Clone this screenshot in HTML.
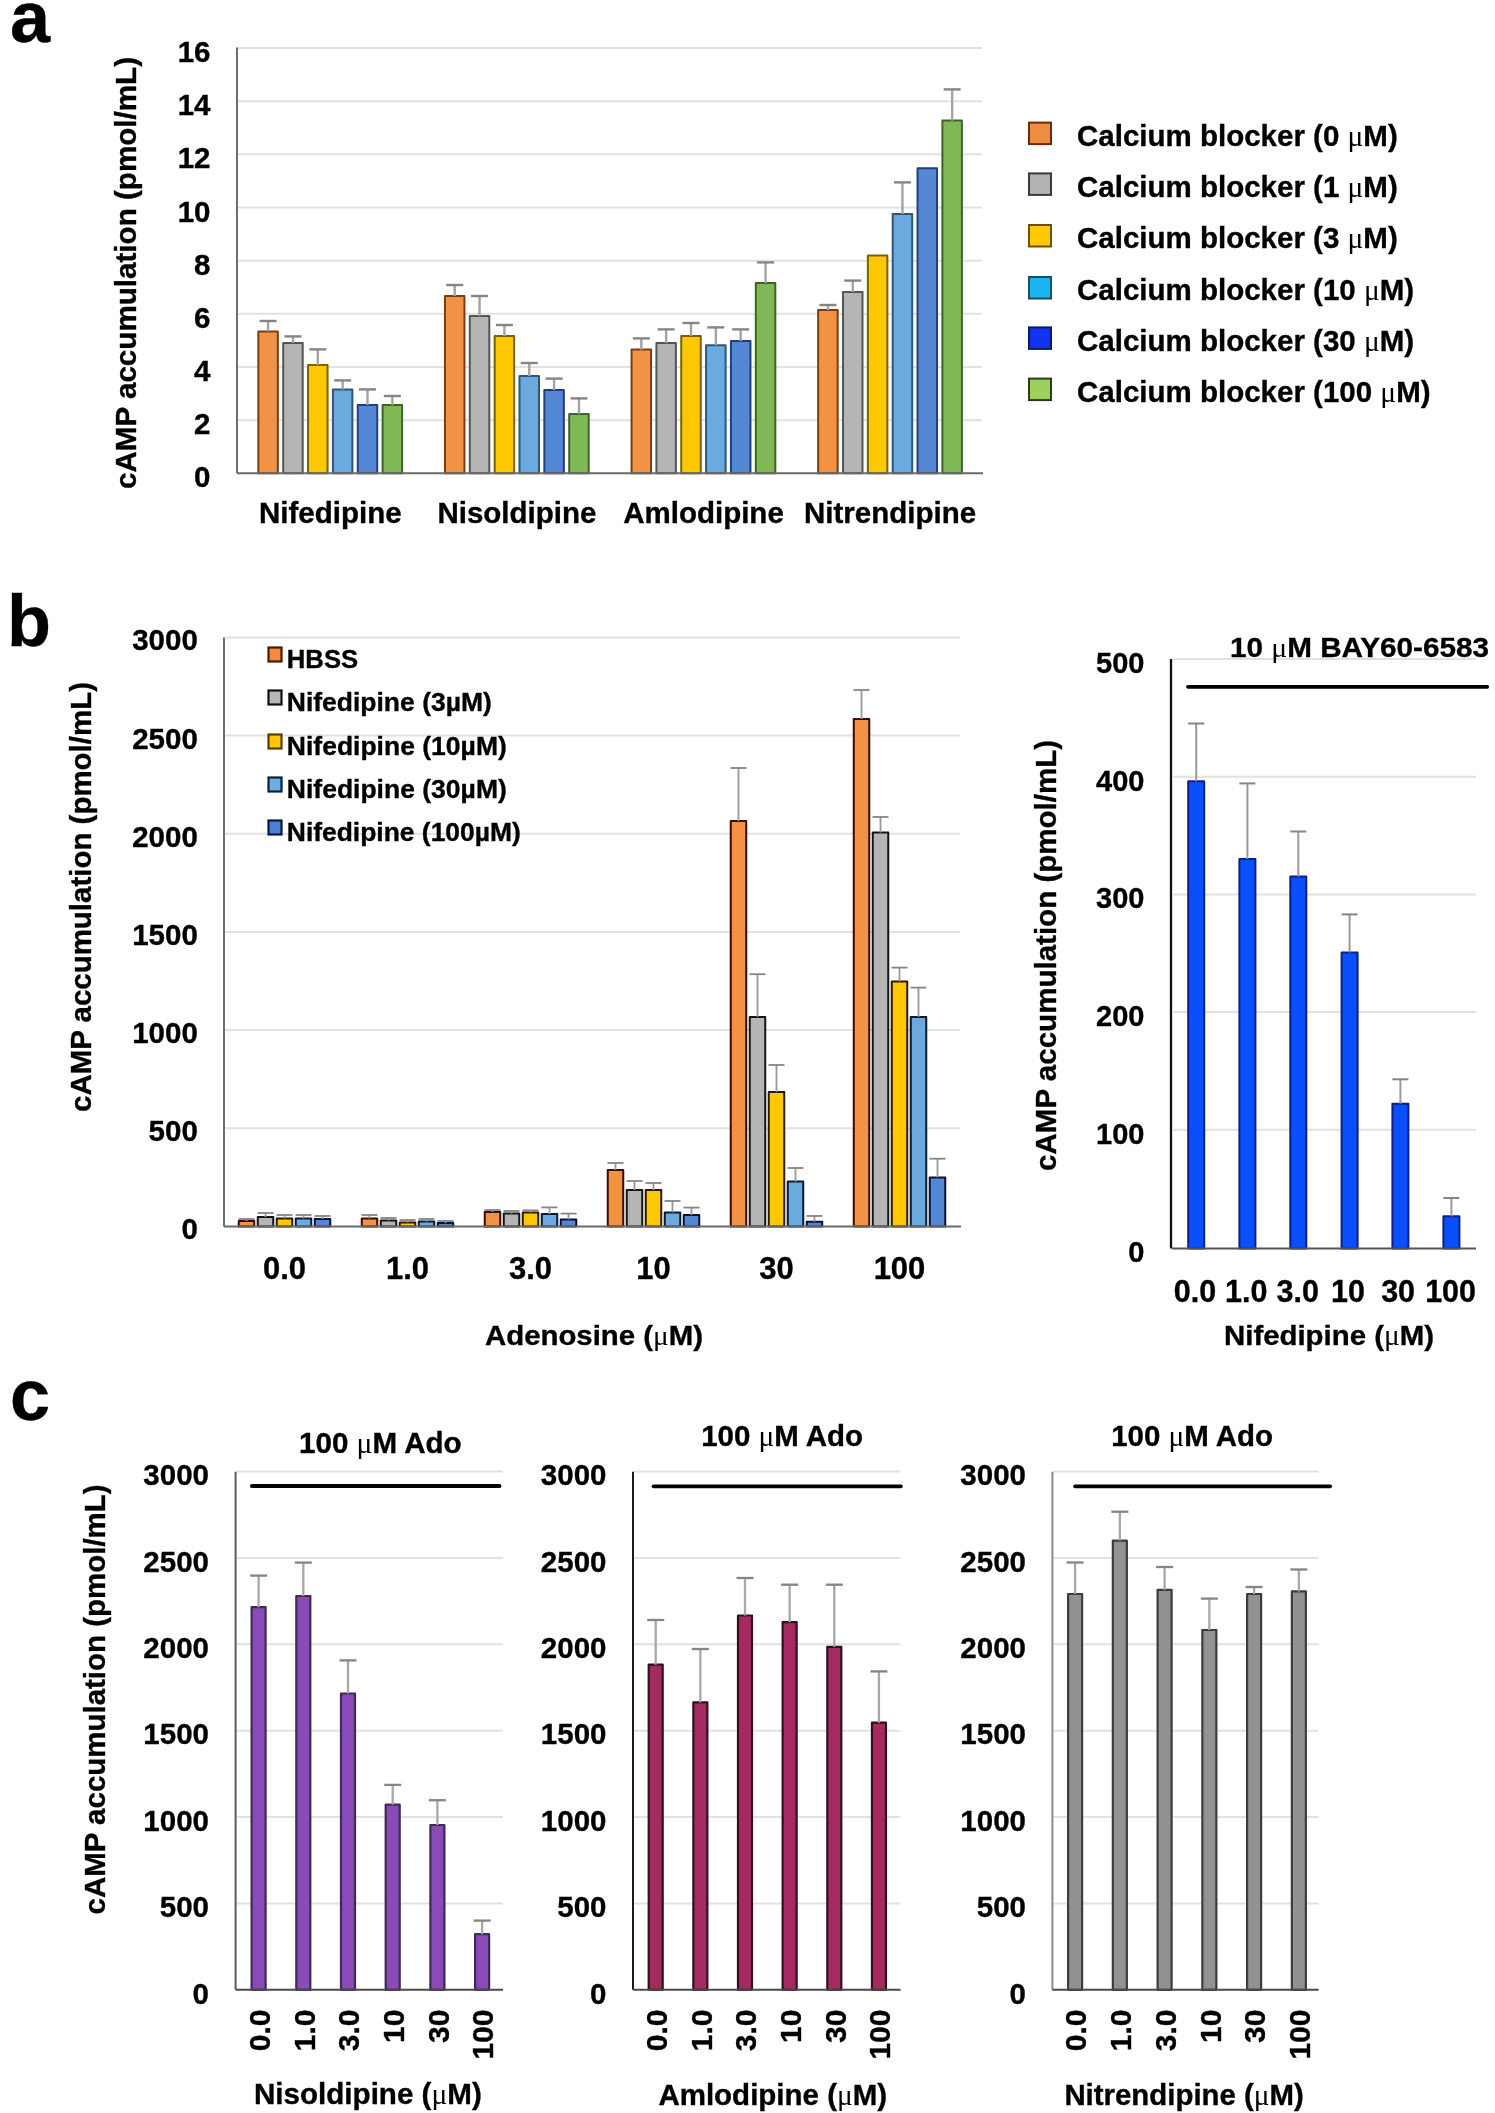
<!DOCTYPE html>
<html><head><meta charset="utf-8"><title>Figure</title>
<style>
html,body{margin:0;padding:0;background:#fff;}
svg{display:block;filter:blur(0.6px);}
text{font-family:"Liberation Sans",sans-serif;font-weight:bold;fill:#000;stroke:#000;stroke-width:0.35px;}
.mu{font-family:"Liberation Serif",serif;font-weight:normal;stroke-width:0;}
</style></head>
<body>
<svg width="1495" height="2113" viewBox="0 0 1495 2113">
<rect width="1495" height="2113" fill="#fff"/>
<text x="10" y="41.5" font-size="72">a</text>
<line x1="238" y1="420.14" x2="982" y2="420.14" stroke="#e2e2e2" stroke-width="2"/>
<line x1="238" y1="366.98" x2="982" y2="366.98" stroke="#e2e2e2" stroke-width="2"/>
<line x1="238" y1="313.82" x2="982" y2="313.82" stroke="#e2e2e2" stroke-width="2"/>
<line x1="238" y1="260.66" x2="982" y2="260.66" stroke="#e2e2e2" stroke-width="2"/>
<line x1="238" y1="207.50" x2="982" y2="207.50" stroke="#e2e2e2" stroke-width="2"/>
<line x1="238" y1="154.34" x2="982" y2="154.34" stroke="#e2e2e2" stroke-width="2"/>
<line x1="238" y1="101.18" x2="982" y2="101.18" stroke="#e2e2e2" stroke-width="2"/>
<line x1="238" y1="48.02" x2="982" y2="48.02" stroke="#e2e2e2" stroke-width="2"/>
<text x="210.5" y="487.30" font-size="29.5" text-anchor="end">0</text>
<text x="210.5" y="434.14" font-size="29.5" text-anchor="end">2</text>
<text x="210.5" y="380.98" font-size="29.5" text-anchor="end">4</text>
<text x="210.5" y="327.82" font-size="29.5" text-anchor="end">6</text>
<text x="210.5" y="274.66" font-size="29.5" text-anchor="end">8</text>
<text x="210.5" y="221.50" font-size="29.5" text-anchor="end">10</text>
<text x="210.5" y="168.34" font-size="29.5" text-anchor="end">12</text>
<text x="210.5" y="115.18" font-size="29.5" text-anchor="end">14</text>
<text x="210.5" y="62.02" font-size="29.5" text-anchor="end">16</text>
<text transform="translate(136,273) rotate(-90)" font-size="29.5" text-anchor="middle" textLength="432" lengthAdjust="spacingAndGlyphs">cAMP accumulation (pmol/mL)</text>
<rect x="258.35" y="331.40" width="19.5" height="141.90" fill="#f29244" stroke="#7a3c10" stroke-width="2" stroke-linejoin="round"/>
<rect x="283.20" y="343.00" width="19.5" height="130.30" fill="#b5b5b5" stroke="#555555" stroke-width="2" stroke-linejoin="round"/>
<rect x="308.05" y="365.00" width="19.5" height="108.30" fill="#fdc800" stroke="#7a6000" stroke-width="2" stroke-linejoin="round"/>
<rect x="332.90" y="389.40" width="19.5" height="83.90" fill="#6aaade" stroke="#2c5878" stroke-width="2" stroke-linejoin="round"/>
<rect x="357.75" y="405.00" width="19.5" height="68.30" fill="#5588d4" stroke="#243e78" stroke-width="2" stroke-linejoin="round"/>
<rect x="382.60" y="405.00" width="19.5" height="68.30" fill="#80b855" stroke="#3c6428" stroke-width="2" stroke-linejoin="round"/>
<rect x="444.95" y="296.00" width="19.5" height="177.30" fill="#f29244" stroke="#7a3c10" stroke-width="2" stroke-linejoin="round"/>
<rect x="469.80" y="316.00" width="19.5" height="157.30" fill="#b5b5b5" stroke="#555555" stroke-width="2" stroke-linejoin="round"/>
<rect x="494.65" y="336.00" width="19.5" height="137.30" fill="#fdc800" stroke="#7a6000" stroke-width="2" stroke-linejoin="round"/>
<rect x="519.50" y="376.00" width="19.5" height="97.30" fill="#6aaade" stroke="#2c5878" stroke-width="2" stroke-linejoin="round"/>
<rect x="544.35" y="390.00" width="19.5" height="83.30" fill="#5588d4" stroke="#243e78" stroke-width="2" stroke-linejoin="round"/>
<rect x="569.20" y="414.00" width="19.5" height="59.30" fill="#80b855" stroke="#3c6428" stroke-width="2" stroke-linejoin="round"/>
<rect x="631.55" y="349.60" width="19.5" height="123.70" fill="#f29244" stroke="#7a3c10" stroke-width="2" stroke-linejoin="round"/>
<rect x="656.40" y="343.00" width="19.5" height="130.30" fill="#b5b5b5" stroke="#555555" stroke-width="2" stroke-linejoin="round"/>
<rect x="681.25" y="336.00" width="19.5" height="137.30" fill="#fdc800" stroke="#7a6000" stroke-width="2" stroke-linejoin="round"/>
<rect x="706.10" y="345.20" width="19.5" height="128.10" fill="#6aaade" stroke="#2c5878" stroke-width="2" stroke-linejoin="round"/>
<rect x="730.95" y="341.00" width="19.5" height="132.30" fill="#5588d4" stroke="#243e78" stroke-width="2" stroke-linejoin="round"/>
<rect x="755.80" y="283.00" width="19.5" height="190.30" fill="#80b855" stroke="#3c6428" stroke-width="2" stroke-linejoin="round"/>
<rect x="818.15" y="310.00" width="19.5" height="163.30" fill="#f29244" stroke="#7a3c10" stroke-width="2" stroke-linejoin="round"/>
<rect x="843.00" y="292.00" width="19.5" height="181.30" fill="#b5b5b5" stroke="#555555" stroke-width="2" stroke-linejoin="round"/>
<rect x="867.85" y="255.40" width="19.5" height="217.90" fill="#fdc800" stroke="#7a6000" stroke-width="2" stroke-linejoin="round"/>
<rect x="892.70" y="214.00" width="19.5" height="259.30" fill="#6aaade" stroke="#2c5878" stroke-width="2" stroke-linejoin="round"/>
<rect x="917.55" y="168.30" width="19.5" height="305.00" fill="#5588d4" stroke="#243e78" stroke-width="2" stroke-linejoin="round"/>
<rect x="942.40" y="120.60" width="19.5" height="352.70" fill="#80b855" stroke="#3c6428" stroke-width="2" stroke-linejoin="round"/>
<line x1="268.10" y1="331.40" x2="268.10" y2="321.00" stroke="#a3a3a3" stroke-width="2.4"/>
<line x1="259.60" y1="321.00" x2="276.60" y2="321.00" stroke="#858585" stroke-width="2.4"/>
<line x1="292.95" y1="343.00" x2="292.95" y2="336.40" stroke="#a3a3a3" stroke-width="2.4"/>
<line x1="284.45" y1="336.40" x2="301.45" y2="336.40" stroke="#858585" stroke-width="2.4"/>
<line x1="317.80" y1="365.00" x2="317.80" y2="349.40" stroke="#a3a3a3" stroke-width="2.4"/>
<line x1="309.30" y1="349.40" x2="326.30" y2="349.40" stroke="#858585" stroke-width="2.4"/>
<line x1="342.65" y1="389.40" x2="342.65" y2="380.40" stroke="#a3a3a3" stroke-width="2.4"/>
<line x1="334.15" y1="380.40" x2="351.15" y2="380.40" stroke="#858585" stroke-width="2.4"/>
<line x1="367.50" y1="405.00" x2="367.50" y2="389.40" stroke="#a3a3a3" stroke-width="2.4"/>
<line x1="359.00" y1="389.40" x2="376.00" y2="389.40" stroke="#858585" stroke-width="2.4"/>
<line x1="392.35" y1="405.00" x2="392.35" y2="396.00" stroke="#a3a3a3" stroke-width="2.4"/>
<line x1="383.85" y1="396.00" x2="400.85" y2="396.00" stroke="#858585" stroke-width="2.4"/>
<line x1="454.70" y1="296.00" x2="454.70" y2="285.00" stroke="#a3a3a3" stroke-width="2.4"/>
<line x1="446.20" y1="285.00" x2="463.20" y2="285.00" stroke="#858585" stroke-width="2.4"/>
<line x1="479.55" y1="316.00" x2="479.55" y2="296.00" stroke="#a3a3a3" stroke-width="2.4"/>
<line x1="471.05" y1="296.00" x2="488.05" y2="296.00" stroke="#858585" stroke-width="2.4"/>
<line x1="504.40" y1="336.00" x2="504.40" y2="325.00" stroke="#a3a3a3" stroke-width="2.4"/>
<line x1="495.90" y1="325.00" x2="512.90" y2="325.00" stroke="#858585" stroke-width="2.4"/>
<line x1="529.25" y1="376.00" x2="529.25" y2="363.00" stroke="#a3a3a3" stroke-width="2.4"/>
<line x1="520.75" y1="363.00" x2="537.75" y2="363.00" stroke="#858585" stroke-width="2.4"/>
<line x1="554.10" y1="390.00" x2="554.10" y2="378.60" stroke="#a3a3a3" stroke-width="2.4"/>
<line x1="545.60" y1="378.60" x2="562.60" y2="378.60" stroke="#858585" stroke-width="2.4"/>
<line x1="578.95" y1="414.00" x2="578.95" y2="398.40" stroke="#a3a3a3" stroke-width="2.4"/>
<line x1="570.45" y1="398.40" x2="587.45" y2="398.40" stroke="#858585" stroke-width="2.4"/>
<line x1="641.30" y1="349.60" x2="641.30" y2="338.40" stroke="#a3a3a3" stroke-width="2.4"/>
<line x1="632.80" y1="338.40" x2="649.80" y2="338.40" stroke="#858585" stroke-width="2.4"/>
<line x1="666.15" y1="343.00" x2="666.15" y2="329.40" stroke="#a3a3a3" stroke-width="2.4"/>
<line x1="657.65" y1="329.40" x2="674.65" y2="329.40" stroke="#858585" stroke-width="2.4"/>
<line x1="691.00" y1="336.00" x2="691.00" y2="323.00" stroke="#a3a3a3" stroke-width="2.4"/>
<line x1="682.50" y1="323.00" x2="699.50" y2="323.00" stroke="#858585" stroke-width="2.4"/>
<line x1="715.85" y1="345.20" x2="715.85" y2="327.40" stroke="#a3a3a3" stroke-width="2.4"/>
<line x1="707.35" y1="327.40" x2="724.35" y2="327.40" stroke="#858585" stroke-width="2.4"/>
<line x1="740.70" y1="341.00" x2="740.70" y2="329.40" stroke="#a3a3a3" stroke-width="2.4"/>
<line x1="732.20" y1="329.40" x2="749.20" y2="329.40" stroke="#858585" stroke-width="2.4"/>
<line x1="765.55" y1="283.00" x2="765.55" y2="262.40" stroke="#a3a3a3" stroke-width="2.4"/>
<line x1="757.05" y1="262.40" x2="774.05" y2="262.40" stroke="#858585" stroke-width="2.4"/>
<line x1="827.90" y1="310.00" x2="827.90" y2="305.00" stroke="#a3a3a3" stroke-width="2.4"/>
<line x1="819.40" y1="305.00" x2="836.40" y2="305.00" stroke="#858585" stroke-width="2.4"/>
<line x1="852.75" y1="292.00" x2="852.75" y2="280.60" stroke="#a3a3a3" stroke-width="2.4"/>
<line x1="844.25" y1="280.60" x2="861.25" y2="280.60" stroke="#858585" stroke-width="2.4"/>
<line x1="902.45" y1="214.00" x2="902.45" y2="182.40" stroke="#a3a3a3" stroke-width="2.4"/>
<line x1="893.95" y1="182.40" x2="910.95" y2="182.40" stroke="#858585" stroke-width="2.4"/>
<line x1="952.15" y1="120.60" x2="952.15" y2="89.40" stroke="#a3a3a3" stroke-width="2.4"/>
<line x1="943.65" y1="89.40" x2="960.65" y2="89.40" stroke="#858585" stroke-width="2.4"/>
<line x1="237" y1="47.6" x2="237" y2="473.3" stroke="#6e6e6e" stroke-width="2"/>
<line x1="237" y1="473.3" x2="983" y2="473.3" stroke="#6a6a6a" stroke-width="2"/>
<text x="330.3" y="523" font-size="29.5" text-anchor="middle">Nifedipine</text>
<text x="516.9" y="523" font-size="29.5" text-anchor="middle">Nisoldipine</text>
<text x="703.5" y="523" font-size="29.5" text-anchor="middle">Amlodipine</text>
<text x="890.1" y="523" font-size="29.5" text-anchor="middle">Nitrendipine</text>
<rect x="1029" y="122.6" width="22" height="21.5" fill="#f08c40" stroke="#6a2a10" stroke-width="2"/>
<text x="1077" y="145.9" font-size="29.5" text-anchor="start">Calcium blocker (0 <tspan class="mu">μ</tspan>M)</text>
<rect x="1029" y="173.4" width="22" height="21.5" fill="#b2b2b2" stroke="#3a3a3a" stroke-width="2"/>
<text x="1077" y="196.7" font-size="29.5" text-anchor="start">Calcium blocker (1 <tspan class="mu">μ</tspan>M)</text>
<rect x="1029" y="225.0" width="22" height="21.5" fill="#ffc800" stroke="#6a5000" stroke-width="2"/>
<text x="1077" y="248.3" font-size="29.5" text-anchor="start">Calcium blocker (3 <tspan class="mu">μ</tspan>M)</text>
<rect x="1029" y="277.0" width="22" height="21.5" fill="#1ab4f0" stroke="#1a4a6a" stroke-width="2"/>
<text x="1077" y="300.3" font-size="29.5" text-anchor="start">Calcium blocker (10 <tspan class="mu">μ</tspan>M)</text>
<rect x="1029" y="327.4" width="22" height="21.5" fill="#1432f5" stroke="#101860" stroke-width="2"/>
<text x="1077" y="350.7" font-size="29.5" text-anchor="start">Calcium blocker (30 <tspan class="mu">μ</tspan>M)</text>
<rect x="1029" y="378.6" width="22" height="21.5" fill="#9ed05c" stroke="#2a3a20" stroke-width="2"/>
<text x="1077" y="401.9" font-size="29.5" text-anchor="start">Calcium blocker (100 <tspan class="mu">μ</tspan>M)</text>
<text x="7" y="645.5" font-size="72">b</text>
<line x1="225" y1="1128.24" x2="960" y2="1128.24" stroke="#e2e2e2" stroke-width="2"/>
<line x1="225" y1="1030.07" x2="960" y2="1030.07" stroke="#e2e2e2" stroke-width="2"/>
<line x1="225" y1="931.91" x2="960" y2="931.91" stroke="#e2e2e2" stroke-width="2"/>
<line x1="225" y1="833.74" x2="960" y2="833.74" stroke="#e2e2e2" stroke-width="2"/>
<line x1="225" y1="735.58" x2="960" y2="735.58" stroke="#e2e2e2" stroke-width="2"/>
<line x1="225" y1="637.41" x2="960" y2="637.41" stroke="#e2e2e2" stroke-width="2"/>
<text x="197.8" y="1239.40" font-size="29.5" text-anchor="end">0</text>
<text x="197.8" y="1141.24" font-size="29.5" text-anchor="end">500</text>
<text x="197.8" y="1043.07" font-size="29.5" text-anchor="end">1000</text>
<text x="197.8" y="944.91" font-size="29.5" text-anchor="end">1500</text>
<text x="197.8" y="846.74" font-size="29.5" text-anchor="end">2000</text>
<text x="197.8" y="748.58" font-size="29.5" text-anchor="end">2500</text>
<text x="197.8" y="650.41" font-size="29.5" text-anchor="end">3000</text>
<text transform="translate(91,897) rotate(-90)" font-size="29.5" text-anchor="middle" textLength="430" lengthAdjust="spacingAndGlyphs">cAMP accumulation (pmol/mL)</text>
<rect x="238.75" y="1221.00" width="15.5" height="5.40" fill="#f29244" stroke="#3a0a00" stroke-width="2" stroke-linejoin="round"/>
<rect x="257.75" y="1217.00" width="15.5" height="9.40" fill="#b5b5b5" stroke="#141414" stroke-width="2" stroke-linejoin="round"/>
<rect x="276.75" y="1218.40" width="15.5" height="8.00" fill="#fdc800" stroke="#2a1a00" stroke-width="2" stroke-linejoin="round"/>
<rect x="295.75" y="1218.40" width="15.5" height="8.00" fill="#6aaade" stroke="#0a1a30" stroke-width="2" stroke-linejoin="round"/>
<rect x="314.75" y="1219.00" width="15.5" height="7.40" fill="#5588d4" stroke="#0a1030" stroke-width="2" stroke-linejoin="round"/>
<rect x="361.75" y="1218.40" width="15.5" height="8.00" fill="#f29244" stroke="#3a0a00" stroke-width="2" stroke-linejoin="round"/>
<rect x="380.75" y="1220.50" width="15.5" height="5.90" fill="#b5b5b5" stroke="#141414" stroke-width="2" stroke-linejoin="round"/>
<rect x="399.75" y="1222.50" width="15.5" height="3.90" fill="#fdc800" stroke="#2a1a00" stroke-width="2" stroke-linejoin="round"/>
<rect x="418.75" y="1221.50" width="15.5" height="4.90" fill="#6aaade" stroke="#0a1a30" stroke-width="2" stroke-linejoin="round"/>
<rect x="437.75" y="1223.00" width="15.5" height="3.40" fill="#5588d4" stroke="#0a1030" stroke-width="2" stroke-linejoin="round"/>
<rect x="484.75" y="1212.00" width="15.5" height="14.40" fill="#f29244" stroke="#3a0a00" stroke-width="2" stroke-linejoin="round"/>
<rect x="503.75" y="1213.60" width="15.5" height="12.80" fill="#b5b5b5" stroke="#141414" stroke-width="2" stroke-linejoin="round"/>
<rect x="522.75" y="1212.40" width="15.5" height="14.00" fill="#fdc800" stroke="#2a1a00" stroke-width="2" stroke-linejoin="round"/>
<rect x="541.75" y="1214.00" width="15.5" height="12.40" fill="#6aaade" stroke="#0a1a30" stroke-width="2" stroke-linejoin="round"/>
<rect x="560.75" y="1219.40" width="15.5" height="7.00" fill="#5588d4" stroke="#0a1030" stroke-width="2" stroke-linejoin="round"/>
<rect x="607.75" y="1170.00" width="15.5" height="56.40" fill="#f29244" stroke="#3a0a00" stroke-width="2" stroke-linejoin="round"/>
<rect x="626.75" y="1190.00" width="15.5" height="36.40" fill="#b5b5b5" stroke="#141414" stroke-width="2" stroke-linejoin="round"/>
<rect x="645.75" y="1190.00" width="15.5" height="36.40" fill="#fdc800" stroke="#2a1a00" stroke-width="2" stroke-linejoin="round"/>
<rect x="664.75" y="1212.40" width="15.5" height="14.00" fill="#6aaade" stroke="#0a1a30" stroke-width="2" stroke-linejoin="round"/>
<rect x="683.75" y="1215.00" width="15.5" height="11.40" fill="#5588d4" stroke="#0a1030" stroke-width="2" stroke-linejoin="round"/>
<rect x="730.75" y="821.00" width="15.5" height="405.40" fill="#f29244" stroke="#3a0a00" stroke-width="2" stroke-linejoin="round"/>
<rect x="749.75" y="1016.90" width="15.5" height="209.50" fill="#b5b5b5" stroke="#141414" stroke-width="2" stroke-linejoin="round"/>
<rect x="768.75" y="1092.00" width="15.5" height="134.40" fill="#fdc800" stroke="#2a1a00" stroke-width="2" stroke-linejoin="round"/>
<rect x="787.75" y="1181.60" width="15.5" height="44.80" fill="#6aaade" stroke="#0a1a30" stroke-width="2" stroke-linejoin="round"/>
<rect x="806.75" y="1221.70" width="15.5" height="4.70" fill="#5588d4" stroke="#0a1030" stroke-width="2" stroke-linejoin="round"/>
<rect x="853.75" y="719.00" width="15.5" height="507.40" fill="#f29244" stroke="#3a0a00" stroke-width="2" stroke-linejoin="round"/>
<rect x="872.75" y="832.40" width="15.5" height="394.00" fill="#b5b5b5" stroke="#141414" stroke-width="2" stroke-linejoin="round"/>
<rect x="891.75" y="981.40" width="15.5" height="245.00" fill="#fdc800" stroke="#2a1a00" stroke-width="2" stroke-linejoin="round"/>
<rect x="910.75" y="1016.90" width="15.5" height="209.50" fill="#6aaade" stroke="#0a1a30" stroke-width="2" stroke-linejoin="round"/>
<rect x="929.75" y="1177.40" width="15.5" height="49.00" fill="#5588d4" stroke="#0a1030" stroke-width="2" stroke-linejoin="round"/>
<line x1="246.50" y1="1221.00" x2="246.50" y2="1219.00" stroke="#9a9a9a" stroke-width="1.8"/>
<line x1="238.50" y1="1219.00" x2="254.50" y2="1219.00" stroke="#858585" stroke-width="1.8"/>
<line x1="265.50" y1="1217.00" x2="265.50" y2="1213.00" stroke="#9a9a9a" stroke-width="1.8"/>
<line x1="257.50" y1="1213.00" x2="273.50" y2="1213.00" stroke="#858585" stroke-width="1.8"/>
<line x1="284.50" y1="1218.40" x2="284.50" y2="1215.00" stroke="#9a9a9a" stroke-width="1.8"/>
<line x1="276.50" y1="1215.00" x2="292.50" y2="1215.00" stroke="#858585" stroke-width="1.8"/>
<line x1="303.50" y1="1218.40" x2="303.50" y2="1215.00" stroke="#9a9a9a" stroke-width="1.8"/>
<line x1="295.50" y1="1215.00" x2="311.50" y2="1215.00" stroke="#858585" stroke-width="1.8"/>
<line x1="322.50" y1="1219.00" x2="322.50" y2="1216.00" stroke="#9a9a9a" stroke-width="1.8"/>
<line x1="314.50" y1="1216.00" x2="330.50" y2="1216.00" stroke="#858585" stroke-width="1.8"/>
<line x1="369.50" y1="1218.40" x2="369.50" y2="1215.00" stroke="#9a9a9a" stroke-width="1.8"/>
<line x1="361.50" y1="1215.00" x2="377.50" y2="1215.00" stroke="#858585" stroke-width="1.8"/>
<line x1="388.50" y1="1220.50" x2="388.50" y2="1218.00" stroke="#9a9a9a" stroke-width="1.8"/>
<line x1="380.50" y1="1218.00" x2="396.50" y2="1218.00" stroke="#858585" stroke-width="1.8"/>
<line x1="407.50" y1="1222.50" x2="407.50" y2="1220.00" stroke="#9a9a9a" stroke-width="1.8"/>
<line x1="399.50" y1="1220.00" x2="415.50" y2="1220.00" stroke="#858585" stroke-width="1.8"/>
<line x1="426.50" y1="1221.50" x2="426.50" y2="1219.00" stroke="#9a9a9a" stroke-width="1.8"/>
<line x1="418.50" y1="1219.00" x2="434.50" y2="1219.00" stroke="#858585" stroke-width="1.8"/>
<line x1="445.50" y1="1223.00" x2="445.50" y2="1221.00" stroke="#9a9a9a" stroke-width="1.8"/>
<line x1="437.50" y1="1221.00" x2="453.50" y2="1221.00" stroke="#858585" stroke-width="1.8"/>
<line x1="492.50" y1="1212.00" x2="492.50" y2="1210.00" stroke="#9a9a9a" stroke-width="1.8"/>
<line x1="484.50" y1="1210.00" x2="500.50" y2="1210.00" stroke="#858585" stroke-width="1.8"/>
<line x1="511.50" y1="1213.60" x2="511.50" y2="1211.00" stroke="#9a9a9a" stroke-width="1.8"/>
<line x1="503.50" y1="1211.00" x2="519.50" y2="1211.00" stroke="#858585" stroke-width="1.8"/>
<line x1="530.50" y1="1212.40" x2="530.50" y2="1210.40" stroke="#9a9a9a" stroke-width="1.8"/>
<line x1="522.50" y1="1210.40" x2="538.50" y2="1210.40" stroke="#858585" stroke-width="1.8"/>
<line x1="549.50" y1="1214.00" x2="549.50" y2="1207.40" stroke="#9a9a9a" stroke-width="1.8"/>
<line x1="541.50" y1="1207.40" x2="557.50" y2="1207.40" stroke="#858585" stroke-width="1.8"/>
<line x1="568.50" y1="1219.40" x2="568.50" y2="1213.60" stroke="#9a9a9a" stroke-width="1.8"/>
<line x1="560.50" y1="1213.60" x2="576.50" y2="1213.60" stroke="#858585" stroke-width="1.8"/>
<line x1="615.50" y1="1170.00" x2="615.50" y2="1163.00" stroke="#9a9a9a" stroke-width="1.8"/>
<line x1="607.50" y1="1163.00" x2="623.50" y2="1163.00" stroke="#858585" stroke-width="1.8"/>
<line x1="634.50" y1="1190.00" x2="634.50" y2="1181.00" stroke="#9a9a9a" stroke-width="1.8"/>
<line x1="626.50" y1="1181.00" x2="642.50" y2="1181.00" stroke="#858585" stroke-width="1.8"/>
<line x1="653.50" y1="1190.00" x2="653.50" y2="1183.00" stroke="#9a9a9a" stroke-width="1.8"/>
<line x1="645.50" y1="1183.00" x2="661.50" y2="1183.00" stroke="#858585" stroke-width="1.8"/>
<line x1="672.50" y1="1212.40" x2="672.50" y2="1201.00" stroke="#9a9a9a" stroke-width="1.8"/>
<line x1="664.50" y1="1201.00" x2="680.50" y2="1201.00" stroke="#858585" stroke-width="1.8"/>
<line x1="691.50" y1="1215.00" x2="691.50" y2="1207.60" stroke="#9a9a9a" stroke-width="1.8"/>
<line x1="683.50" y1="1207.60" x2="699.50" y2="1207.60" stroke="#858585" stroke-width="1.8"/>
<line x1="738.50" y1="821.00" x2="738.50" y2="768.00" stroke="#9a9a9a" stroke-width="1.8"/>
<line x1="730.50" y1="768.00" x2="746.50" y2="768.00" stroke="#858585" stroke-width="1.8"/>
<line x1="757.50" y1="1016.90" x2="757.50" y2="974.20" stroke="#9a9a9a" stroke-width="1.8"/>
<line x1="749.50" y1="974.20" x2="765.50" y2="974.20" stroke="#858585" stroke-width="1.8"/>
<line x1="776.50" y1="1092.00" x2="776.50" y2="1065.00" stroke="#9a9a9a" stroke-width="1.8"/>
<line x1="768.50" y1="1065.00" x2="784.50" y2="1065.00" stroke="#858585" stroke-width="1.8"/>
<line x1="795.50" y1="1181.60" x2="795.50" y2="1168.00" stroke="#9a9a9a" stroke-width="1.8"/>
<line x1="787.50" y1="1168.00" x2="803.50" y2="1168.00" stroke="#858585" stroke-width="1.8"/>
<line x1="814.50" y1="1221.70" x2="814.50" y2="1216.00" stroke="#9a9a9a" stroke-width="1.8"/>
<line x1="806.50" y1="1216.00" x2="822.50" y2="1216.00" stroke="#858585" stroke-width="1.8"/>
<line x1="861.50" y1="719.00" x2="861.50" y2="690.00" stroke="#9a9a9a" stroke-width="1.8"/>
<line x1="853.50" y1="690.00" x2="869.50" y2="690.00" stroke="#858585" stroke-width="1.8"/>
<line x1="880.50" y1="832.40" x2="880.50" y2="817.00" stroke="#9a9a9a" stroke-width="1.8"/>
<line x1="872.50" y1="817.00" x2="888.50" y2="817.00" stroke="#858585" stroke-width="1.8"/>
<line x1="899.50" y1="981.40" x2="899.50" y2="967.60" stroke="#9a9a9a" stroke-width="1.8"/>
<line x1="891.50" y1="967.60" x2="907.50" y2="967.60" stroke="#858585" stroke-width="1.8"/>
<line x1="918.50" y1="1016.90" x2="918.50" y2="987.60" stroke="#9a9a9a" stroke-width="1.8"/>
<line x1="910.50" y1="987.60" x2="926.50" y2="987.60" stroke="#858585" stroke-width="1.8"/>
<line x1="937.50" y1="1177.40" x2="937.50" y2="1158.70" stroke="#9a9a9a" stroke-width="1.8"/>
<line x1="929.50" y1="1158.70" x2="945.50" y2="1158.70" stroke="#858585" stroke-width="1.8"/>
<line x1="224" y1="637.5" x2="224" y2="1226.4" stroke="#6e6e6e" stroke-width="2"/>
<line x1="224" y1="1226.4" x2="961" y2="1226.4" stroke="#6a6a6a" stroke-width="2"/>
<text x="284.5" y="1279" font-size="31" text-anchor="middle">0.0</text>
<text x="407.5" y="1279" font-size="31" text-anchor="middle">1.0</text>
<text x="530.5" y="1279" font-size="31" text-anchor="middle">3.0</text>
<text x="653.5" y="1279" font-size="31" text-anchor="middle">10</text>
<text x="776.5" y="1279" font-size="31" text-anchor="middle">30</text>
<text x="899.5" y="1279" font-size="31" text-anchor="middle">100</text>
<text x="485" y="1345" font-size="28" text-anchor="start" textLength="218" lengthAdjust="spacingAndGlyphs">Adenosine (<tspan class="mu">μ</tspan>M)</text>
<rect x="268.5" y="647.5" width="13" height="14" fill="#f08c40" stroke="#4a1a00" stroke-width="2.2"/>
<text x="286.8" y="667.6" font-size="26" text-anchor="start" textLength="71.4" lengthAdjust="spacingAndGlyphs">HBSS</text>
<rect x="268.5" y="690.5" width="13" height="14" fill="#b8b8b8" stroke="#101010" stroke-width="2.2"/>
<text x="286.8" y="710.6" font-size="26" text-anchor="start" textLength="205" lengthAdjust="spacingAndGlyphs">Nifedipine (3µM)</text>
<rect x="268.5" y="734.5" width="13" height="14" fill="#ffc800" stroke="#5a3a00" stroke-width="2.2"/>
<text x="286.8" y="754.6" font-size="26" text-anchor="start" textLength="220" lengthAdjust="spacingAndGlyphs">Nifedipine (10µM)</text>
<rect x="268.5" y="777.5" width="13" height="14" fill="#6aaee6" stroke="#0a2040" stroke-width="2.2"/>
<text x="286.8" y="797.6" font-size="26" text-anchor="start" textLength="220" lengthAdjust="spacingAndGlyphs">Nifedipine (30µM)</text>
<rect x="268.5" y="820.5" width="13" height="14" fill="#4a7fd4" stroke="#0a1840" stroke-width="2.2"/>
<text x="286.8" y="840.6" font-size="26" text-anchor="start" textLength="234" lengthAdjust="spacingAndGlyphs">Nifedipine (100µM)</text>
<line x1="1173" y1="1129.80" x2="1476" y2="1129.80" stroke="#e2e2e2" stroke-width="2"/>
<line x1="1173" y1="1012.10" x2="1476" y2="1012.10" stroke="#e2e2e2" stroke-width="2"/>
<line x1="1173" y1="894.40" x2="1476" y2="894.40" stroke="#e2e2e2" stroke-width="2"/>
<line x1="1173" y1="776.70" x2="1476" y2="776.70" stroke="#e2e2e2" stroke-width="2"/>
<line x1="1173" y1="659.00" x2="1476" y2="659.00" stroke="#e2e2e2" stroke-width="2"/>
<text x="1144.5" y="1261.50" font-size="29" text-anchor="end">0</text>
<text x="1144.5" y="1143.80" font-size="29" text-anchor="end">100</text>
<text x="1144.5" y="1026.10" font-size="29" text-anchor="end">200</text>
<text x="1144.5" y="908.40" font-size="29" text-anchor="end">300</text>
<text x="1144.5" y="790.70" font-size="29" text-anchor="end">400</text>
<text x="1144.5" y="673.00" font-size="29" text-anchor="end">500</text>
<text transform="translate(1056,955.4) rotate(-90)" font-size="29.5" text-anchor="middle" textLength="431" lengthAdjust="spacingAndGlyphs">cAMP accumulation (pmol/mL)</text>
<rect x="1188.20" y="781.30" width="16" height="467.20" fill="#0a4efc" stroke="#0c1f8a" stroke-width="2" stroke-linejoin="round"/>
<rect x="1239.40" y="859.00" width="16" height="389.50" fill="#0a4efc" stroke="#0c1f8a" stroke-width="2" stroke-linejoin="round"/>
<rect x="1290.30" y="876.60" width="16" height="371.90" fill="#0a4efc" stroke="#0c1f8a" stroke-width="2" stroke-linejoin="round"/>
<rect x="1341.60" y="952.40" width="16" height="296.10" fill="#0a4efc" stroke="#0c1f8a" stroke-width="2" stroke-linejoin="round"/>
<rect x="1392.40" y="1103.70" width="16" height="144.80" fill="#0a4efc" stroke="#0c1f8a" stroke-width="2" stroke-linejoin="round"/>
<rect x="1443.40" y="1216.30" width="16" height="32.20" fill="#0a4efc" stroke="#0c1f8a" stroke-width="2" stroke-linejoin="round"/>
<line x1="1196.20" y1="781.30" x2="1196.20" y2="723.50" stroke="#9a9a9a" stroke-width="2"/>
<line x1="1188.20" y1="723.50" x2="1204.20" y2="723.50" stroke="#858585" stroke-width="2"/>
<line x1="1247.40" y1="859.00" x2="1247.40" y2="783.40" stroke="#9a9a9a" stroke-width="2"/>
<line x1="1239.40" y1="783.40" x2="1255.40" y2="783.40" stroke="#858585" stroke-width="2"/>
<line x1="1298.30" y1="876.60" x2="1298.30" y2="831.50" stroke="#9a9a9a" stroke-width="2"/>
<line x1="1290.30" y1="831.50" x2="1306.30" y2="831.50" stroke="#858585" stroke-width="2"/>
<line x1="1349.60" y1="952.40" x2="1349.60" y2="914.40" stroke="#9a9a9a" stroke-width="2"/>
<line x1="1341.60" y1="914.40" x2="1357.60" y2="914.40" stroke="#858585" stroke-width="2"/>
<line x1="1400.40" y1="1103.70" x2="1400.40" y2="1079.30" stroke="#9a9a9a" stroke-width="2"/>
<line x1="1392.40" y1="1079.30" x2="1408.40" y2="1079.30" stroke="#858585" stroke-width="2"/>
<line x1="1451.40" y1="1216.30" x2="1451.40" y2="1198.00" stroke="#9a9a9a" stroke-width="2"/>
<line x1="1443.40" y1="1198.00" x2="1459.40" y2="1198.00" stroke="#858585" stroke-width="2"/>
<line x1="1171" y1="659" x2="1171" y2="1248.5" stroke="#111111" stroke-width="2.3"/>
<line x1="1172" y1="1248.5" x2="1476" y2="1248.5" stroke="#555555" stroke-width="2"/>
<line x1="1188" y1="686.8" x2="1487.2" y2="686.8" stroke="#000" stroke-width="3.8" stroke-linecap="round"/>
<text x="1230" y="656.5" font-size="28" text-anchor="start" textLength="259" lengthAdjust="spacingAndGlyphs">10 <tspan class="mu">μ</tspan>M BAY60-6583</text>
<text x="1195.0" y="1301.5" font-size="30.5" text-anchor="middle">0.0</text>
<text x="1246.2" y="1301.5" font-size="30.5" text-anchor="middle">1.0</text>
<text x="1297.7" y="1301.5" font-size="30.5" text-anchor="middle">3.0</text>
<text x="1348.0" y="1301.5" font-size="30.5" text-anchor="middle">10</text>
<text x="1398.1" y="1301.5" font-size="30.5" text-anchor="middle">30</text>
<text x="1450.6" y="1301.5" font-size="30.5" text-anchor="middle">100</text>
<text x="1224" y="1345" font-size="28.5" text-anchor="start" textLength="210" lengthAdjust="spacingAndGlyphs">Nifedipine (<tspan class="mu">μ</tspan>M)</text>
<text x="10" y="1419.5" font-size="72">c</text>
<line x1="236.6" y1="1903.41" x2="503" y2="1903.41" stroke="#e2e2e2" stroke-width="2"/>
<line x1="236.6" y1="1817.03" x2="503" y2="1817.03" stroke="#e2e2e2" stroke-width="2"/>
<line x1="236.6" y1="1730.64" x2="503" y2="1730.64" stroke="#e2e2e2" stroke-width="2"/>
<line x1="236.6" y1="1644.26" x2="503" y2="1644.26" stroke="#e2e2e2" stroke-width="2"/>
<line x1="236.6" y1="1557.88" x2="503" y2="1557.88" stroke="#e2e2e2" stroke-width="2"/>
<line x1="236.6" y1="1471.49" x2="503" y2="1471.49" stroke="#e2e2e2" stroke-width="2"/>
<text x="209" y="2003.50" font-size="29.5" text-anchor="end">0</text>
<text x="209" y="1917.12" font-size="29.5" text-anchor="end">500</text>
<text x="209" y="1830.73" font-size="29.5" text-anchor="end">1000</text>
<text x="209" y="1744.35" font-size="29.5" text-anchor="end">1500</text>
<text x="209" y="1657.96" font-size="29.5" text-anchor="end">2000</text>
<text x="209" y="1571.58" font-size="29.5" text-anchor="end">2500</text>
<text x="209" y="1485.19" font-size="29.5" text-anchor="end">3000</text>
<rect x="251.60" y="1607.20" width="14" height="382.60" fill="#8a4ab8" stroke="#3e2a55" stroke-width="2.2" stroke-linejoin="round"/>
<rect x="296.30" y="1596.00" width="14" height="393.80" fill="#8a4ab8" stroke="#3e2a55" stroke-width="2.2" stroke-linejoin="round"/>
<rect x="341.00" y="1693.50" width="14" height="296.30" fill="#8a4ab8" stroke="#3e2a55" stroke-width="2.2" stroke-linejoin="round"/>
<rect x="385.70" y="1804.70" width="14" height="185.10" fill="#8a4ab8" stroke="#3e2a55" stroke-width="2.2" stroke-linejoin="round"/>
<rect x="430.40" y="1825.00" width="14" height="164.80" fill="#8a4ab8" stroke="#3e2a55" stroke-width="2.2" stroke-linejoin="round"/>
<rect x="475.10" y="1934.20" width="14" height="55.60" fill="#8a4ab8" stroke="#3e2a55" stroke-width="2.2" stroke-linejoin="round"/>
<line x1="258.60" y1="1607.20" x2="258.60" y2="1575.60" stroke="#a8a8a8" stroke-width="2.3"/>
<line x1="250.10" y1="1575.60" x2="267.10" y2="1575.60" stroke="#858585" stroke-width="2.3"/>
<line x1="303.30" y1="1596.00" x2="303.30" y2="1562.60" stroke="#a8a8a8" stroke-width="2.3"/>
<line x1="294.80" y1="1562.60" x2="311.80" y2="1562.60" stroke="#858585" stroke-width="2.3"/>
<line x1="348.00" y1="1693.50" x2="348.00" y2="1660.40" stroke="#a8a8a8" stroke-width="2.3"/>
<line x1="339.50" y1="1660.40" x2="356.50" y2="1660.40" stroke="#858585" stroke-width="2.3"/>
<line x1="392.70" y1="1804.70" x2="392.70" y2="1784.90" stroke="#a8a8a8" stroke-width="2.3"/>
<line x1="384.20" y1="1784.90" x2="401.20" y2="1784.90" stroke="#858585" stroke-width="2.3"/>
<line x1="437.40" y1="1825.00" x2="437.40" y2="1800.20" stroke="#a8a8a8" stroke-width="2.3"/>
<line x1="428.90" y1="1800.20" x2="445.90" y2="1800.20" stroke="#858585" stroke-width="2.3"/>
<line x1="482.10" y1="1934.20" x2="482.10" y2="1920.60" stroke="#a8a8a8" stroke-width="2.3"/>
<line x1="473.60" y1="1920.60" x2="490.60" y2="1920.60" stroke="#858585" stroke-width="2.3"/>
<line x1="235.6" y1="1471.7" x2="235.6" y2="1989.8" stroke="#5a5a5a" stroke-width="2"/>
<line x1="235.6" y1="1989.8" x2="503" y2="1989.8" stroke="#4a4a4a" stroke-width="2"/>
<line x1="251.9" y1="1486" x2="499.5" y2="1486" stroke="#000" stroke-width="3.8" stroke-linecap="round"/>
<text x="299" y="1452.7" font-size="29.5" text-anchor="start" textLength="162.7" lengthAdjust="spacingAndGlyphs">100 <tspan class="mu">μ</tspan>M Ado</text>
<text transform="translate(269.8,2009.5) rotate(-90)" font-size="30" text-anchor="end">0.0</text>
<text transform="translate(314.5,2009.5) rotate(-90)" font-size="30" text-anchor="end">1.0</text>
<text transform="translate(359.2,2009.5) rotate(-90)" font-size="30" text-anchor="end">3.0</text>
<text transform="translate(403.9,2009.5) rotate(-90)" font-size="30" text-anchor="end">10</text>
<text transform="translate(448.6,2009.5) rotate(-90)" font-size="30" text-anchor="end">30</text>
<text transform="translate(493.3,2009.5) rotate(-90)" font-size="30" text-anchor="end">100</text>
<text x="254" y="2103.6000000000004" font-size="29.5" text-anchor="start" textLength="227.8" lengthAdjust="spacingAndGlyphs">Nisoldipine (<tspan class="mu">μ</tspan>M)</text>
<line x1="634" y1="1903.41" x2="900.6" y2="1903.41" stroke="#e2e2e2" stroke-width="2"/>
<line x1="634" y1="1817.03" x2="900.6" y2="1817.03" stroke="#e2e2e2" stroke-width="2"/>
<line x1="634" y1="1730.64" x2="900.6" y2="1730.64" stroke="#e2e2e2" stroke-width="2"/>
<line x1="634" y1="1644.26" x2="900.6" y2="1644.26" stroke="#e2e2e2" stroke-width="2"/>
<line x1="634" y1="1557.88" x2="900.6" y2="1557.88" stroke="#e2e2e2" stroke-width="2"/>
<line x1="634" y1="1471.49" x2="900.6" y2="1471.49" stroke="#e2e2e2" stroke-width="2"/>
<text x="606.5" y="2003.50" font-size="29.5" text-anchor="end">0</text>
<text x="606.5" y="1917.12" font-size="29.5" text-anchor="end">500</text>
<text x="606.5" y="1830.73" font-size="29.5" text-anchor="end">1000</text>
<text x="606.5" y="1744.35" font-size="29.5" text-anchor="end">1500</text>
<text x="606.5" y="1657.96" font-size="29.5" text-anchor="end">2000</text>
<text x="606.5" y="1571.58" font-size="29.5" text-anchor="end">2500</text>
<text x="606.5" y="1485.19" font-size="29.5" text-anchor="end">3000</text>
<rect x="648.70" y="1664.70" width="14" height="325.10" fill="#a62a62" stroke="#34101f" stroke-width="2.2" stroke-linejoin="round"/>
<rect x="693.35" y="1702.40" width="14" height="287.40" fill="#a62a62" stroke="#34101f" stroke-width="2.2" stroke-linejoin="round"/>
<rect x="738.00" y="1615.50" width="14" height="374.30" fill="#a62a62" stroke="#34101f" stroke-width="2.2" stroke-linejoin="round"/>
<rect x="782.65" y="1622.20" width="14" height="367.60" fill="#a62a62" stroke="#34101f" stroke-width="2.2" stroke-linejoin="round"/>
<rect x="827.30" y="1646.80" width="14" height="343.00" fill="#a62a62" stroke="#34101f" stroke-width="2.2" stroke-linejoin="round"/>
<rect x="871.95" y="1722.70" width="14" height="267.10" fill="#a62a62" stroke="#34101f" stroke-width="2.2" stroke-linejoin="round"/>
<line x1="655.70" y1="1664.70" x2="655.70" y2="1620.00" stroke="#a8a8a8" stroke-width="2.3"/>
<line x1="647.20" y1="1620.00" x2="664.20" y2="1620.00" stroke="#858585" stroke-width="2.3"/>
<line x1="700.35" y1="1702.40" x2="700.35" y2="1649.00" stroke="#a8a8a8" stroke-width="2.3"/>
<line x1="691.85" y1="1649.00" x2="708.85" y2="1649.00" stroke="#858585" stroke-width="2.3"/>
<line x1="745.00" y1="1615.50" x2="745.00" y2="1578.00" stroke="#a8a8a8" stroke-width="2.3"/>
<line x1="736.50" y1="1578.00" x2="753.50" y2="1578.00" stroke="#858585" stroke-width="2.3"/>
<line x1="789.65" y1="1622.20" x2="789.65" y2="1584.70" stroke="#a8a8a8" stroke-width="2.3"/>
<line x1="781.15" y1="1584.70" x2="798.15" y2="1584.70" stroke="#858585" stroke-width="2.3"/>
<line x1="834.30" y1="1646.80" x2="834.30" y2="1584.70" stroke="#a8a8a8" stroke-width="2.3"/>
<line x1="825.80" y1="1584.70" x2="842.80" y2="1584.70" stroke="#858585" stroke-width="2.3"/>
<line x1="878.95" y1="1722.70" x2="878.95" y2="1671.40" stroke="#a8a8a8" stroke-width="2.3"/>
<line x1="870.45" y1="1671.40" x2="887.45" y2="1671.40" stroke="#858585" stroke-width="2.3"/>
<line x1="633" y1="1471.7" x2="633" y2="1989.8" stroke="#1a1a1a" stroke-width="2"/>
<line x1="633" y1="1989.8" x2="900.6" y2="1989.8" stroke="#4a4a4a" stroke-width="2"/>
<line x1="653.6" y1="1486.3" x2="900.8000000000001" y2="1486.3" stroke="#000" stroke-width="3.8" stroke-linecap="round"/>
<text x="701.2" y="1445.6" font-size="29.5" text-anchor="start" textLength="161.9" lengthAdjust="spacingAndGlyphs">100 <tspan class="mu">μ</tspan>M Ado</text>
<text transform="translate(666.9,2009.5) rotate(-90)" font-size="30" text-anchor="end">0.0</text>
<text transform="translate(711.6,2009.5) rotate(-90)" font-size="30" text-anchor="end">1.0</text>
<text transform="translate(756.2,2009.5) rotate(-90)" font-size="30" text-anchor="end">3.0</text>
<text transform="translate(800.9,2009.5) rotate(-90)" font-size="30" text-anchor="end">10</text>
<text transform="translate(845.5,2009.5) rotate(-90)" font-size="30" text-anchor="end">30</text>
<text transform="translate(890.2,2009.5) rotate(-90)" font-size="30" text-anchor="end">100</text>
<text x="658.4" y="2104.5" font-size="29.5" text-anchor="start" textLength="228.8" lengthAdjust="spacingAndGlyphs">Amlodipine (<tspan class="mu">μ</tspan>M)</text>
<line x1="1053.4" y1="1903.41" x2="1318.6" y2="1903.41" stroke="#e2e2e2" stroke-width="2"/>
<line x1="1053.4" y1="1817.03" x2="1318.6" y2="1817.03" stroke="#e2e2e2" stroke-width="2"/>
<line x1="1053.4" y1="1730.64" x2="1318.6" y2="1730.64" stroke="#e2e2e2" stroke-width="2"/>
<line x1="1053.4" y1="1644.26" x2="1318.6" y2="1644.26" stroke="#e2e2e2" stroke-width="2"/>
<line x1="1053.4" y1="1557.88" x2="1318.6" y2="1557.88" stroke="#e2e2e2" stroke-width="2"/>
<line x1="1053.4" y1="1471.49" x2="1318.6" y2="1471.49" stroke="#e2e2e2" stroke-width="2"/>
<text x="1026" y="2003.50" font-size="29.5" text-anchor="end">0</text>
<text x="1026" y="1917.12" font-size="29.5" text-anchor="end">500</text>
<text x="1026" y="1830.73" font-size="29.5" text-anchor="end">1000</text>
<text x="1026" y="1744.35" font-size="29.5" text-anchor="end">1500</text>
<text x="1026" y="1657.96" font-size="29.5" text-anchor="end">2000</text>
<text x="1026" y="1571.58" font-size="29.5" text-anchor="end">2500</text>
<text x="1026" y="1485.19" font-size="29.5" text-anchor="end">3000</text>
<rect x="1068.10" y="1594.00" width="14" height="395.80" fill="#929292" stroke="#3c3c3c" stroke-width="2.2" stroke-linejoin="round"/>
<rect x="1112.85" y="1540.60" width="14" height="449.20" fill="#929292" stroke="#3c3c3c" stroke-width="2.2" stroke-linejoin="round"/>
<rect x="1157.60" y="1589.80" width="14" height="400.00" fill="#929292" stroke="#3c3c3c" stroke-width="2.2" stroke-linejoin="round"/>
<rect x="1202.35" y="1630.00" width="14" height="359.80" fill="#929292" stroke="#3c3c3c" stroke-width="2.2" stroke-linejoin="round"/>
<rect x="1247.10" y="1594.00" width="14" height="395.80" fill="#929292" stroke="#3c3c3c" stroke-width="2.2" stroke-linejoin="round"/>
<rect x="1291.85" y="1591.40" width="14" height="398.40" fill="#929292" stroke="#3c3c3c" stroke-width="2.2" stroke-linejoin="round"/>
<line x1="1075.10" y1="1594.00" x2="1075.10" y2="1562.50" stroke="#a8a8a8" stroke-width="2.3"/>
<line x1="1066.60" y1="1562.50" x2="1083.60" y2="1562.50" stroke="#858585" stroke-width="2.3"/>
<line x1="1119.85" y1="1540.60" x2="1119.85" y2="1511.70" stroke="#a8a8a8" stroke-width="2.3"/>
<line x1="1111.35" y1="1511.70" x2="1128.35" y2="1511.70" stroke="#858585" stroke-width="2.3"/>
<line x1="1164.60" y1="1589.80" x2="1164.60" y2="1567.00" stroke="#a8a8a8" stroke-width="2.3"/>
<line x1="1156.10" y1="1567.00" x2="1173.10" y2="1567.00" stroke="#858585" stroke-width="2.3"/>
<line x1="1209.35" y1="1630.00" x2="1209.35" y2="1598.60" stroke="#a8a8a8" stroke-width="2.3"/>
<line x1="1200.85" y1="1598.60" x2="1217.85" y2="1598.60" stroke="#858585" stroke-width="2.3"/>
<line x1="1254.10" y1="1594.00" x2="1254.10" y2="1587.00" stroke="#a8a8a8" stroke-width="2.3"/>
<line x1="1245.60" y1="1587.00" x2="1262.60" y2="1587.00" stroke="#858585" stroke-width="2.3"/>
<line x1="1298.85" y1="1591.40" x2="1298.85" y2="1569.50" stroke="#a8a8a8" stroke-width="2.3"/>
<line x1="1290.35" y1="1569.50" x2="1307.35" y2="1569.50" stroke="#858585" stroke-width="2.3"/>
<line x1="1052.4" y1="1471.7" x2="1052.4" y2="1989.8" stroke="#8a8a8a" stroke-width="2"/>
<line x1="1052.4" y1="1989.8" x2="1318.6" y2="1989.8" stroke="#4a4a4a" stroke-width="2"/>
<line x1="1075.1000000000001" y1="1486.3" x2="1330.1" y2="1486.3" stroke="#000" stroke-width="3.8" stroke-linecap="round"/>
<text x="1111.2" y="1445.6" font-size="29.5" text-anchor="start" textLength="161.9" lengthAdjust="spacingAndGlyphs">100 <tspan class="mu">μ</tspan>M Ado</text>
<text transform="translate(1086.3,2009.5) rotate(-90)" font-size="30" text-anchor="end">0.0</text>
<text transform="translate(1131.0,2009.5) rotate(-90)" font-size="30" text-anchor="end">1.0</text>
<text transform="translate(1175.8,2009.5) rotate(-90)" font-size="30" text-anchor="end">3.0</text>
<text transform="translate(1220.5,2009.5) rotate(-90)" font-size="30" text-anchor="end">10</text>
<text transform="translate(1265.3,2009.5) rotate(-90)" font-size="30" text-anchor="end">30</text>
<text transform="translate(1310.0,2009.5) rotate(-90)" font-size="30" text-anchor="end">100</text>
<text x="1064.4" y="2104.5" font-size="29.5" text-anchor="start" textLength="239.5" lengthAdjust="spacingAndGlyphs">Nitrendipine (<tspan class="mu">μ</tspan>M)</text>
<text transform="translate(105,1699.4) rotate(-90)" font-size="29.5" text-anchor="middle" textLength="430" lengthAdjust="spacingAndGlyphs">cAMP accumulation (pmol/mL)</text>
</svg>
</body></html>
